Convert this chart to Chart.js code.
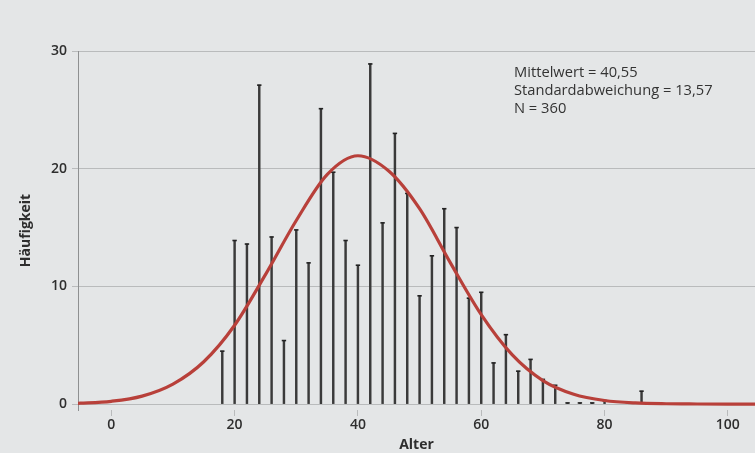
<!DOCTYPE html>
<html>
<head>
<meta charset="utf-8">
<script src="https://cdn.jsdelivr.net/npm/chart.js@4.4.1/dist/chart.umd.min.js"></script>
<style>
    html, body { margin: 0; padding: 0; background: #e4e6e7; }
    #wrap { position: relative; width: 755px; height: 453px; }
    #note {
        position: absolute; left: 514px; top: 62px;
        font: 14.7px "Open Sans", sans-serif; color: #333; line-height: 18px;
    }
</style>
</head>
<body>
<div id="wrap">
    <canvas id="chart" width="755" height="453"></canvas>
    <div id="note">Mittelwert = 40,55<br>Standardabweichung = 13,57<br>N = 360</div>
</div>
<script>
// ages (bin centres) and frequencies
const ages   = [18, 20, 22, 24, 26, 28, 30, 32, 34, 36, 38, 40, 42, 44, 46, 48, 50, 52,
                54, 56, 58, 60, 62, 64, 66, 68, 70, 72, 74, 76, 78, 80, 86, 88];
const counts = [4.5, 13.9, 13.6, 27.1, 14.2, 5.4, 14.8, 12.0, 25.1, 19.7, 13.9, 11.8, 28.9, 15.4, 23.0, 17.9, 9.2, 12.6,
                16.6, 15.0, 9.0, 9.5, 3.5, 5.9, 2.8, 3.8, 2.1, 1.6, 0.1, 0.1, 0.1, 0.3, 1.1, 0.1];

// fitted normal curve
const curveX = [-6, -5, 0, 5, 10, 15, 20, 25, 30, 35, 40, 45, 50, 55, 60, 65, 70, 75, 80, 85, 90, 95, 100, 105];
const curveY = [0.06, 0.08, 0.24, 0.68, 1.7, 3.6, 6.7, 11.0, 15.6, 19.5, 21.1, 19.8, 16.6, 12.0, 7.6, 4.2, 2.0, 0.84, 0.31, 0.1, 0.03, 0.01, 0, 0];

const xTicks = [0, 20, 40, 60, 80, 100];
const yTicks = [0, 10, 20, 30];

const ink = '#2e2e2e';
const grid = '#b9bbbc';
const tickFont = { family: '"Open Sans", sans-serif', size: 14, weight: 600 };

const bars = ages.map((a, i) => ({ x: a, y: counts[i] }));
const curve = curveX.map((a, i) => ({ x: a, y: curveY[i] }));

new Chart(document.getElementById('chart'), {
    type: 'bar',
    data: {
        datasets: [
            {
                type: 'line',
                data: curve,
                borderColor: '#b8403a',
                borderWidth: 3.2,
                pointRadius: 0,
                cubicInterpolationMode: 'monotone',
                order: 0
            },
            {
                type: 'scatter',
                data: bars,
                pointStyle: 'line',
                pointRadius: 2.2,
                borderColor: '#222',
                borderWidth: 1.6,
                order: 1
            },
            {
                type: 'bar',
                data: bars,
                backgroundColor: '#3a3a3a',
                barThickness: 1.8,
                order: 2
            }
        ]
    },
    options: {
        responsive: false,
        animation: false,
        layout: { autoPadding: false, padding: { top: 51, right: 0, bottom: 0, left: 0 } },
        plugins: { legend: { display: false }, tooltip: { enabled: false } },
        scales: {
            x: {
                type: 'linear',
                offset: false,
                min: -5.4,
                max: 104.4,
                afterBuildTicks: s => { s.ticks = xTicks.map(v => ({ value: v })); },
                afterFit: s => { s.height = 43; s.paddingRight = 0; s.paddingLeft = 0; },
                grid: { offset: false, drawOnChartArea: false, drawTicks: true, tickLength: 6, color: grid },
                border: { display: false },
                ticks: { color: ink, font: tickFont, padding: 1, maxRotation: 0 },
                title: {
                    display: true, text: 'Alter', color: ink,
                    font: { family: '"Open Sans", sans-serif', size: 14, weight: 'bold' },
                    padding: { top: 0, bottom: 0 }
                }
            },
            y: {
                min: -0.5,
                max: 30,
                afterBuildTicks: s => { s.ticks = yTicks.map(v => ({ value: v })); },
                afterFit: s => { s.width = 78; },
                grid: { color: grid, tickLength: 6, lineWidth: 1 },
                border: { display: true, color: '#8e9091' },
                ticks: { color: ink, font: tickFont, padding: 5 },
                title: {
                    display: true, text: 'Häufigkeit', color: ink,
                    font: { family: '"Open Sans", sans-serif', size: 14, weight: 'bold' },
                    padding: { top: 18, bottom: 0 }
                }
            }
        }
    }
});
</script>
</body>
</html>
